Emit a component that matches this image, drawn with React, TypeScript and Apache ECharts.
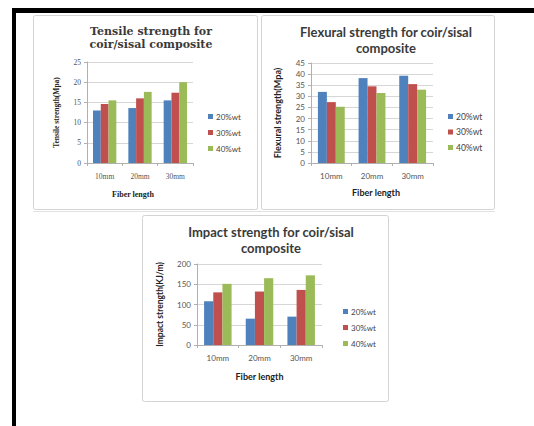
import React, { useEffect, useRef } from "react";
import * as echarts from "echarts";

// Shared categories and series names
const categories = ["10mm", "20mm", "30mm"];
const seriesNames = ["20%wt", "30%wt", "40%wt"];
const colors = ["#4F81BD", "#C0504D", "#9BBB59"];

// Tensile strength (Mpa)
const tensile20 = [13, 13.6, 15.5];
const tensile30 = [14.6, 16, 17.4];
const tensile40 = [15.5, 17.6, 20];

// Flexural strength (Mpa)
const flexural20 = [32, 38.2, 39.3];
const flexural30 = [27.4, 34.5, 35.5];
const flexural40 = [25.3, 31.5, 33];

// Impact strength (KJ/m)
const impact20 = [108, 65, 70];
const impact30 = [130, 132, 136];
const impact40 = [151, 165, 172];

const sans = "Lato, 'Liberation Sans', sans-serif";
const serif = "'Liberation Serif', 'DejaVu Serif', serif";
const titleSerif = "'DejaVu Serif', 'Liberation Serif', serif";

type Fonts = { family: string; tick: number; name: number };

function makeY(gridIndex: number, max: number, interval: number, name: string, f: Fonts, nameSize: number, nameGap: number) {
  return {
    type: "value",
    gridIndex,
    min: 0,
    max,
    interval,
    name,
    nameLocation: "middle",
    nameRotate: 90,
    nameGap,
    nameTextStyle: { fontFamily: f.family, fontSize: nameSize, fontWeight: "bold", color: "#222" },
    axisLine: { show: true, lineStyle: { color: "#b0b0b0", width: 1 } },
    axisTick: { show: true, length: 3, lineStyle: { color: "#b0b0b0" } },
    axisLabel: { fontFamily: f.family, fontSize: f.tick, color: "#555", margin: 6 },
    splitLine: { show: true, lineStyle: { color: "#d6d6d6", width: 1 } },
  };
}

function makeX(gridIndex: number, f: Fonts, nameGap: number, shift: number) {
  return {
    type: "category",
    gridIndex,
    data: categories,
    name: "Fiber length",
    nameLocation: "middle",
    nameGap,
    nameTextStyle: {
      fontFamily: f.family,
      fontSize: f.name,
      fontWeight: "bold",
      color: "#222",
      // horizontal nudge of the axis title
      padding: shift > 0 ? [0, 0, 0, shift * 2] : [0, -shift * 2, 0, 0],
    },
    axisLine: { show: true, lineStyle: { color: "#b0b0b0", width: 1 } },
    axisTick: { show: true, length: 3, lineStyle: { color: "#b0b0b0" } },
    axisLabel: { fontFamily: f.family, fontSize: f.tick, color: "#555", margin: 9 },
    splitLine: { show: false },
  };
}

function makeBars(axisIndex: number, values: number[][]) {
  return values.map((data, i) => ({
    type: "bar",
    name: seriesNames[i],
    xAxisIndex: axisIndex,
    yAxisIndex: axisIndex,
    data,
    barGap: "0%",
    barCategoryGap: "34%",
    itemStyle: { color: colors[i] },
  }));
}

function makeLegend(left: number, top: number, gap: number, size: number) {
  return {
    orient: "vertical",
    left,
    top,
    data: seriesNames,
    icon: "rect",
    itemWidth: 5,
    itemHeight: 5,
    itemGap: gap,
    textStyle: { fontFamily: sans, fontSize: size, color: "#444", padding: [0, 0, 0, -2] },
    selectedMode: false,
  };
}

function makeTitle(text: string, cx: number, top: number, font: string, size: number, lh: number) {
  return {
    text,
    left: cx,
    top,
    textAlign: "center",
    textStyle: { fontFamily: font, fontSize: size, fontWeight: "bold", color: "#3a3a3a", lineHeight: lh },
  };
}

const frameStyle = { fill: "#fff", stroke: "#d4d4d4", lineWidth: 1 };

const serifFonts: Fonts = { family: serif, tick: 7.5, name: 8 };
const sansFonts: Fonts = { family: sans, tick: 8, name: 9 };

export default function App() {
  const ref = useRef<HTMLDivElement>(null);

  useEffect(() => {
    if (!ref.current) return;
    const chart = echarts.init(ref.current, null, { renderer: "svg" });
    chart.setOption({
      animation: false,
      backgroundColor: "#fff",
      graphic: [
        // page borders
        { type: "rect", shape: { x: 12, y: 8, width: 4, height: 418 }, style: { fill: "#000" }, z: 0 },
        { type: "rect", shape: { x: 12, y: 8, width: 522, height: 5 }, style: { fill: "#000" }, z: 0 },
        // chart frames
        { type: "rect", shape: { x: 33.5, y: 15.5, width: 224, height: 194, r: 2 }, style: frameStyle, z: -1 },
        { type: "rect", shape: { x: 261.5, y: 15.5, width: 233, height: 194, r: 2 }, style: frameStyle, z: -1 },
        { type: "line", shape: { x1: 33, y1: 211.5, x2: 495, y2: 211.5 }, style: { stroke: "#e2e2e2", lineWidth: 1 }, z: -1 },
        { type: "rect", shape: { x: 142.5, y: 215.5, width: 246, height: 186, r: 2 }, style: frameStyle, z: -1 },
      ],
      title: [
        makeTitle("Tensile strength for\ncoir/sisal composite", 146, 20, titleSerif, 11, 13),
        makeTitle("Flexural strength for coir/sisal\ncomposite", 381, 19, sans, 13, 16),
        makeTitle("Impact strength for coir/sisal\ncomposite", 266, 219, sans, 13, 16),
      ],
      legend: [
        makeLegend(203, 107.5, 8, 8),
        makeLegend(443, 107, 6.5, 8.5),
        makeLegend(338, 302.5, 8, 8),
      ],
      grid: [
        { left: 87, top: 62, width: 106, height: 101 },
        { left: 311, top: 63, width: 122, height: 100 },
        { left: 197, top: 264, width: 125, height: 81 },
      ],
      xAxis: [
        makeX(0, serifFonts, 27, -7),
        makeX(1, sansFonts, 25, 4),
        makeX(2, sansFonts, 26.5, 0),
      ],
      yAxis: [
        makeY(0, 25, 5, "Tensile strength(Mpa)", serifFonts, 7.5, 27),
        makeY(1, 45, 5, "Flexural strength(Mpa)", sansFonts, 9, 29.5),
        makeY(2, 200, 50, "Impact strength(KJ/m)", sansFonts, 8.5, 32.5),
      ],
      series: [
        ...makeBars(0, [tensile20, tensile30, tensile40]),
        ...makeBars(1, [flexural20, flexural30, flexural40]),
        ...makeBars(2, [impact20, impact30, impact40]),
      ],
    });
    return () => chart.dispose();
  }, []);

  return (
    <div
      ref={ref}
      style={{ position: "absolute", left: 0, top: 0, width: 534, height: 426 }}
    />
  );
}
